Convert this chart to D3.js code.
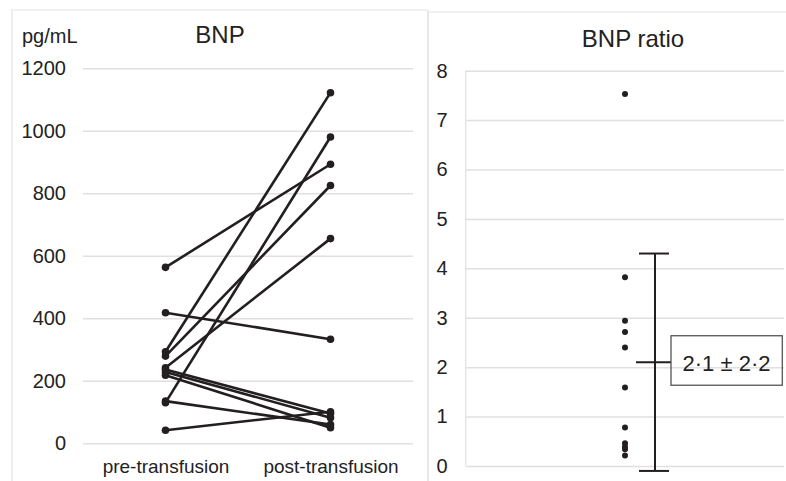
<!DOCTYPE html>
<html><head><meta charset="utf-8">
<script src="https://cdnjs.cloudflare.com/ajax/libs/d3/7.8.5/d3.min.js"></script>
<style>
body{margin:0;background:#fff;}
svg text{font-family:"Liberation Sans",Arial,sans-serif;fill:#222;}
.domain{display:none;}
</style></head>
<body><svg id="c" width="786" height="481"></svg>
<script>
// ---- data ----
const categories = ["pre-transfusion", "post-transfusion"];
const preBNP  = [563, 418, 293, 279, 242, 236, 228, 218, 135, 130, 42];
const postBNP = [893, 333, 1122, 825, 655, 95, 82, 50, 60, 980, 101];
const bnpTicks = [0, 200, 400, 600, 800, 1000, 1200];
const ratioValues = [7.53, 3.82, 2.94, 2.71, 2.40, 1.59, 0.78, 0.46, 0.39, 0.34, 0.21];
const ratioTicks = [0, 1, 2, 3, 4, 5, 6, 7, 8];
const ratioMean = [2.1];
const ratioSD = [2.2];
const ratioLabel = ["2·1 ± 2·2"];
const titles = ["BNP", "BNP ratio"];
const unitLabel = "pg/mL";

const svg = d3.select("#c");
const ink = "#231f20", grid = "#e0e0e0";

// panel frames
svg.append("path").attr("d","M12,481V10H428V481").attr("fill","none").attr("stroke","#e3e3e3").attr("stroke-width",1.2);
svg.append("path").attr("d","M428,481V12H786").attr("fill","none").attr("stroke","#e3e3e3").attr("stroke-width",1.2);

// ---- left panel ----
const L = {x0:83, x1:413, y0:443.3, y1:68.3};
const xL = d3.scalePoint().domain(categories).range([L.x0, L.x1]).padding(0.5);
const yL = d3.scaleLinear().domain([0,1200]).range([L.y0, L.y1]);

const gGridL = svg.append("g").attr("transform",`translate(${L.x0},0)`)
  .call(d3.axisLeft(yL).tickValues(bnpTicks).tickSize(-(L.x1-L.x0)).tickFormat(""));
gGridL.selectAll("line").attr("stroke",grid).attr("stroke-width",1.5);

const gYL = svg.append("g").attr("transform",`translate(66,0)`)
  .call(d3.axisLeft(yL).tickValues(bnpTicks).tickSize(0).tickPadding(0).tickFormat(d3.format("d")));
gYL.selectAll("text").attr("font-size",20).attr("fill","#222");

const gXL = svg.append("g").attr("transform",`translate(0,${L.y0})`)
  .call(d3.axisBottom(xL).tickSize(0).tickPadding(16));
gXL.selectAll("text").attr("font-size",19).attr("fill","#222").attr("dy","0.71em");

svg.append("text").attr("x",22).attr("y",43.3).attr("font-size",20).text(unitLabel);
svg.append("text").attr("x",220).attr("y",43).attr("font-size",24).attr("text-anchor","middle").text(titles[0]);

const pairs = preBNP.map((v,i)=>[v, postBNP[i]]);
svg.append("g").selectAll("line").data(pairs).join("line")
  .attr("x1",xL(categories[0])).attr("x2",xL(categories[1]))
  .attr("y1",d=>yL(d[0])).attr("y2",d=>yL(d[1]))
  .attr("stroke",ink).attr("stroke-width",2.6);
svg.append("g").selectAll("circle").data(preBNP).join("circle")
  .attr("cx",xL(categories[0])).attr("cy",d=>yL(d)).attr("r",3.8).attr("fill",ink);
svg.append("g").selectAll("circle").data(postBNP).join("circle")
  .attr("cx",xL(categories[1])).attr("cy",d=>yL(d)).attr("r",3.8).attr("fill",ink);

// ---- right panel ----
const R = {x0:465.7, x1:784, y0:466, y1:70.7};
const yR = d3.scaleLinear().domain([0,8]).range([R.y0, R.y1]);
const gGridR = svg.append("g").attr("transform",`translate(${R.x0},0)`)
  .call(d3.axisLeft(yR).tickValues(ratioTicks).tickSize(-(R.x1-R.x0)).tickFormat(""));
gGridR.selectAll("line").attr("stroke",grid).attr("stroke-width",1.5);
svg.append("line").attr("x1",R.x0).attr("x2",R.x0).attr("y1",R.y1).attr("y2",R.y0)
  .attr("stroke",grid).attr("stroke-width",1.2);

const gYR = svg.append("g").attr("transform",`translate(447.5,0)`)
  .call(d3.axisLeft(yR).tickValues(ratioTicks).tickSize(0).tickPadding(0));
gYR.selectAll("text").attr("font-size",20).attr("fill","#222");

svg.append("text").attr("x",633).attr("y",46.5).attr("font-size",24).attr("text-anchor","middle").text(titles[1]);

const xR = d3.scalePoint().domain(["dots","bar"]).range([625,655]);
svg.append("g").selectAll("circle").data(ratioValues).join("circle")
  .attr("cx",xR("dots")).attr("cy",d=>yR(d)).attr("r",3).attr("fill",ink);

const m = ratioMean[0], s = ratioSD[0], bx = xR("bar");
const eb = svg.append("g").attr("stroke",ink).attr("stroke-width",2);
eb.append("line").attr("x1",bx).attr("x2",bx).attr("y1",yR(m+s)).attr("y2",yR(m-s));
eb.append("line").attr("x1",bx-16).attr("x2",bx+14).attr("y1",yR(m+s)).attr("y2",yR(m+s));
eb.append("line").attr("x1",bx-16).attr("x2",bx+14).attr("y1",yR(m-s)).attr("y2",yR(m-s));
eb.append("line").attr("x1",bx-19).attr("x2",bx+16).attr("y1",yR(m)).attr("y2",yR(m));

const ym = yR(m);
svg.append("rect").attr("x",671).attr("y",ym-26.5).attr("width",111.3).attr("height",49.5)
  .attr("fill","none").attr("stroke","#555").attr("stroke-width",1.3);
svg.append("text").attr("x",726.5).attr("y",ym+8.5).attr("font-size",22).attr("text-anchor","middle").text(ratioLabel[0]);
</script></body></html>
